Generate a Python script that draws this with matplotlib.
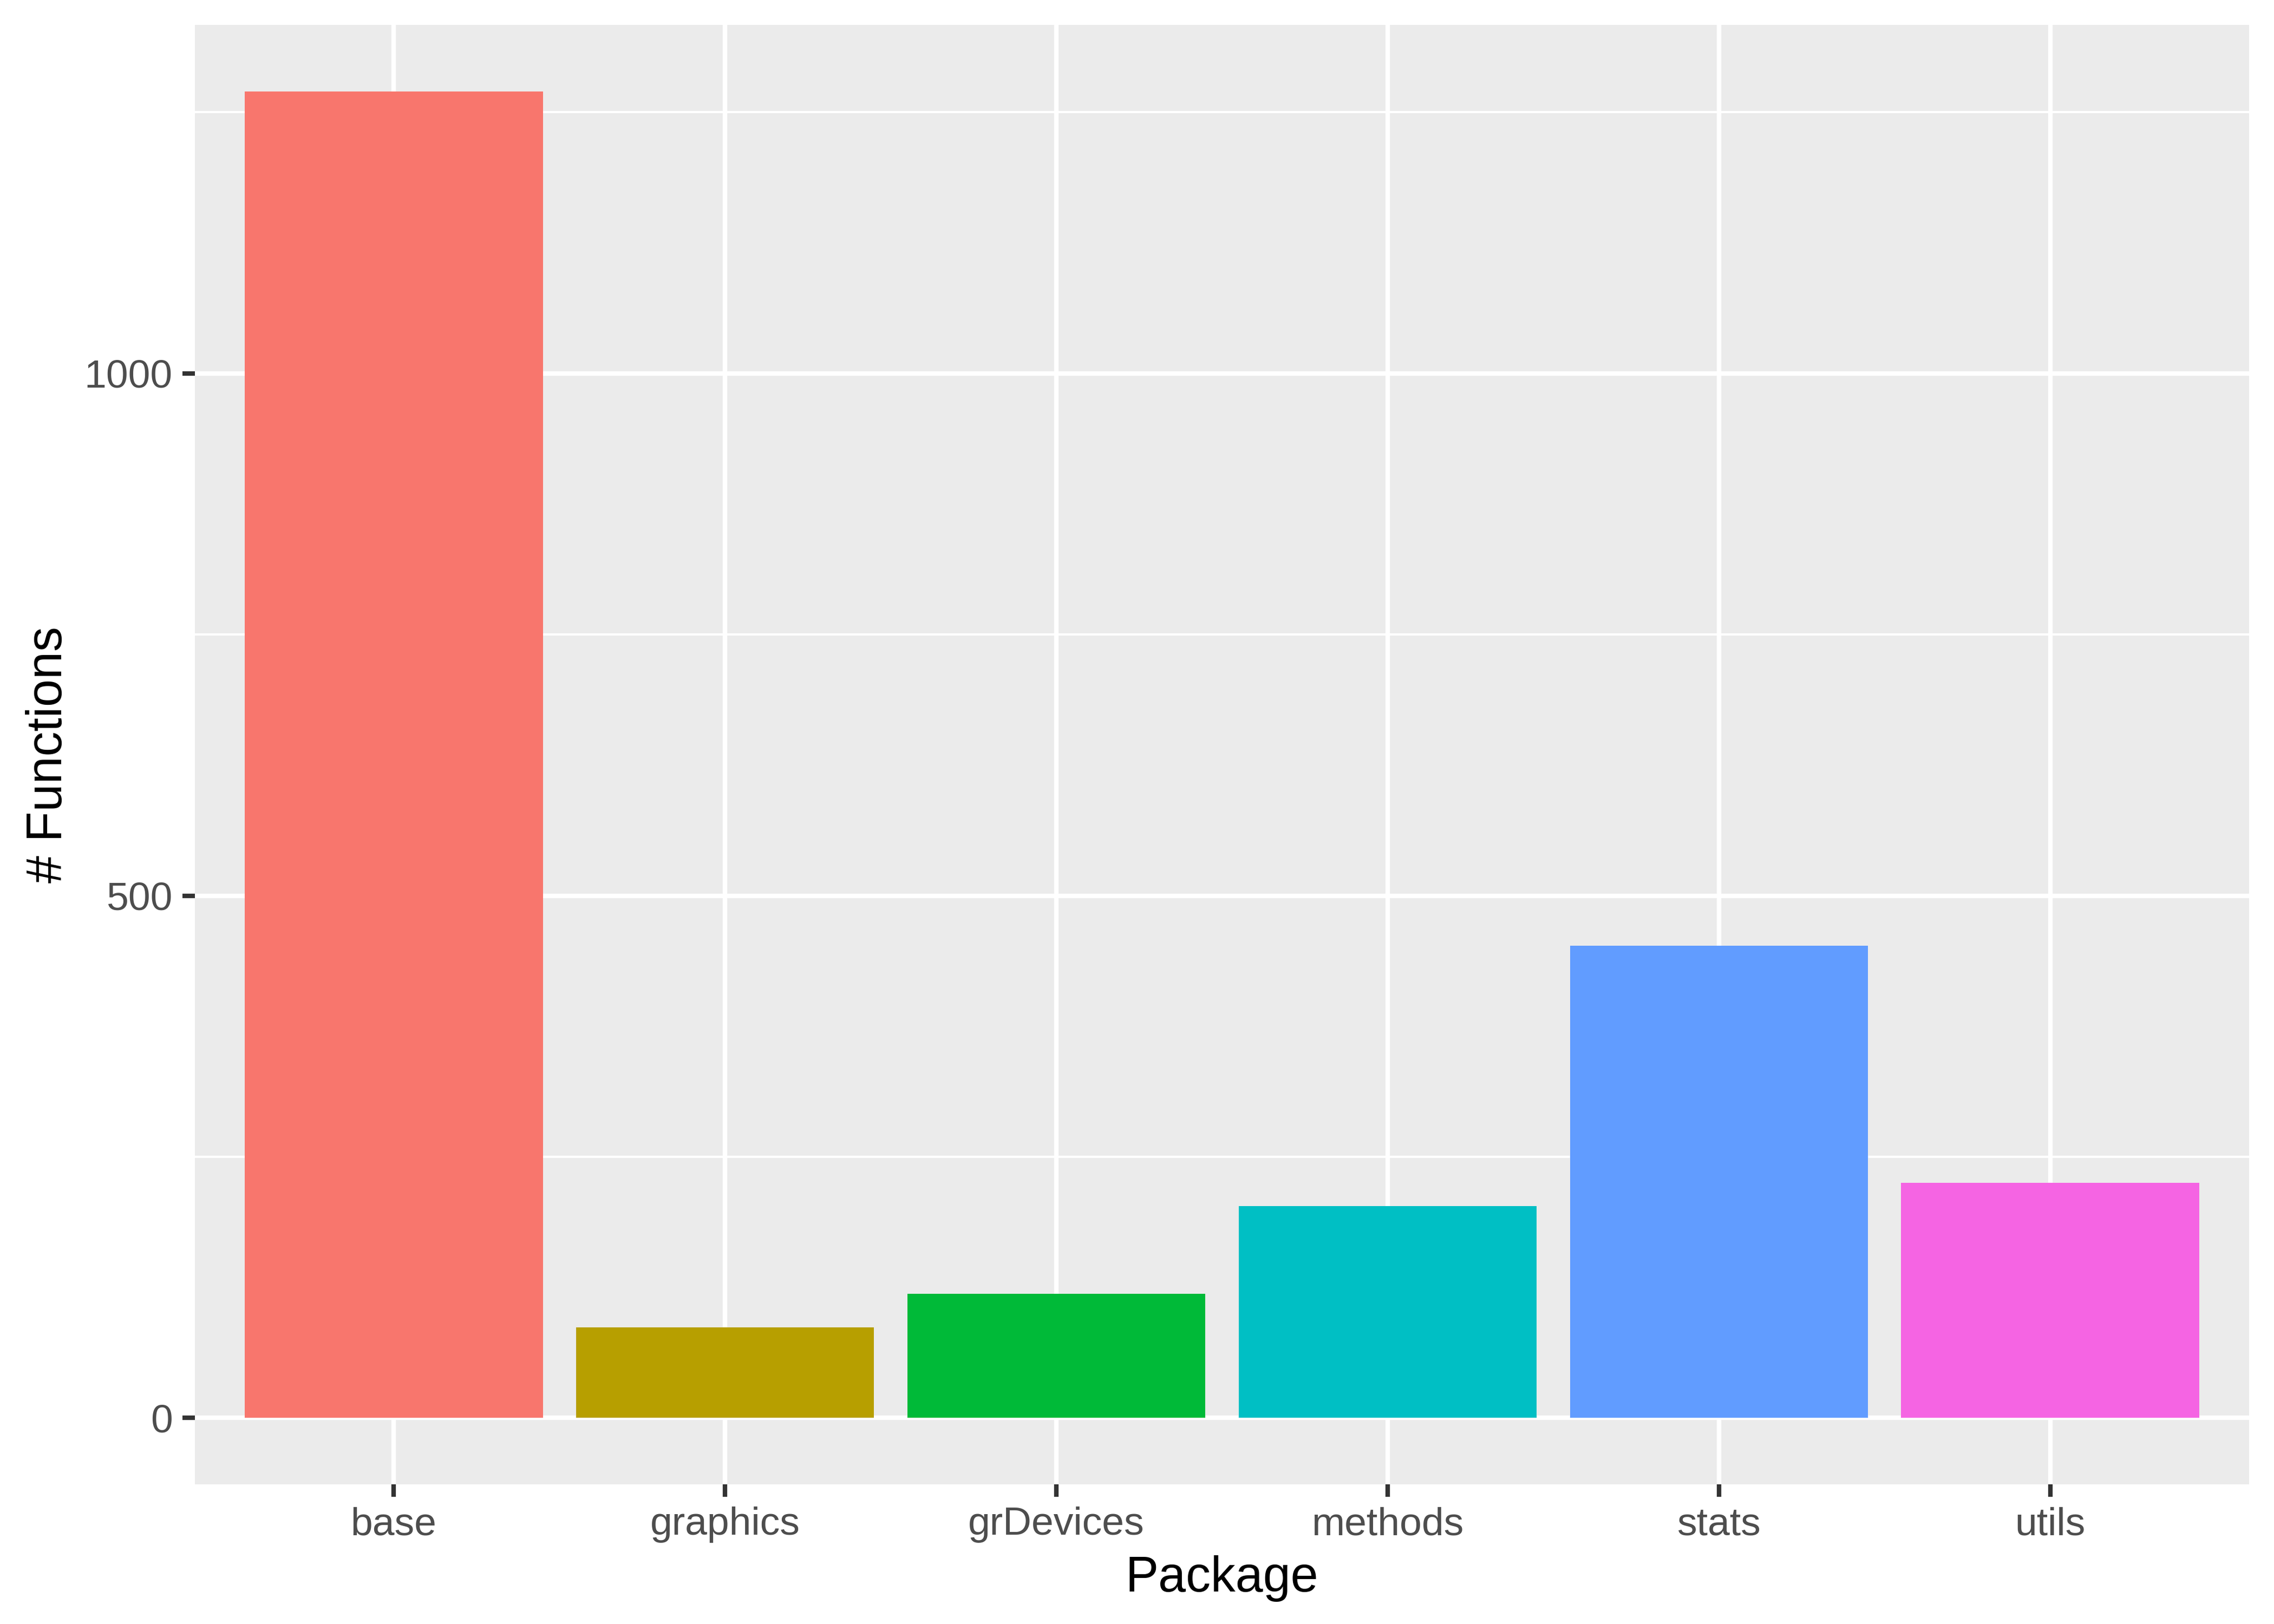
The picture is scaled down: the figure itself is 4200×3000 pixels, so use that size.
import numpy as np
import matplotlib
matplotlib.use("Agg")
import matplotlib.pyplot as plt
from matplotlib.ticker import FixedLocator

packages = ["base", "graphics", "grDevices", "methods", "stats", "utils"]
n_functions = [1270, 87, 119, 203, 452, 225]
bar_colors = ["#F8766D", "#B79F00", "#00BA38", "#00BFC4", "#619CFF", "#F564E3"]
y_major = [0, 500, 1000]
y_minor = [250, 750, 1250]

plt.rcParams['font.family'] = ['Liberation Sans', 'DejaVu Sans']

fig = plt.figure(figsize=(14, 10), dpi=300)
ax = fig.add_axes([360 / 4200, 1 - 2742 / 3000, (4154 - 360) / 4200, (2742 - 46) / 3000])

x = np.arange(len(packages))
ax.set_facecolor("#EBEBEB")
ax.bar(x, n_functions, width=0.9, color=bar_colors, zorder=3)

# ggplot-like expansion
ymax = max(n_functions)
ax.set_ylim(-0.05 * ymax, 1.05 * ymax)
ax.set_xlim(-0.6, len(packages) - 0.4)

ax.set_xticks(x)
ax.set_xticklabels(packages)
ax.yaxis.set_major_locator(FixedLocator(y_major))
ax.yaxis.set_minor_locator(FixedLocator(y_minor))
ax.set_yticklabels([str(v) for v in y_major])

ax.grid(True, which="major", color="white", linewidth=2.0, zorder=1)
ax.grid(True, which="minor", axis="y", color="white", linewidth=1.0, zorder=1)
ax.set_axisbelow(True)

for s in ax.spines.values():
    s.set_visible(False)

ax.tick_params(axis="both", which="major", length=5.5, width=2.0, color="#333333",
               labelcolor="#4D4D4D", labelsize=17.6, pad=4.4)
ax.tick_params(axis="y", which="minor", length=0)

ax.set_xlabel("Package", fontsize=22, labelpad=5.5, color="black")
ax.set_ylabel("# Functions", fontsize=22, labelpad=5.5, color="black")

fig.savefig("out.png", dpi=300, facecolor="white")
